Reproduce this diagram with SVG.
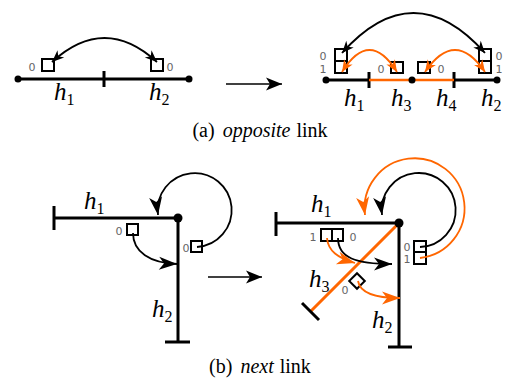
<svg xmlns="http://www.w3.org/2000/svg" width="511" height="385" viewBox="0 0 511 385">
<defs>
<marker id="aS" viewBox="-13 -6 14 12" refX="0" refY="0" markerWidth="14" markerHeight="12" markerUnits="userSpaceOnUse" orient="auto-start-reverse"><path d="M0,0 L-12,-5 L-8.5,0 L-12,5 Z" fill="#000"/></marker>
<marker id="aSo" viewBox="-13 -6 14 12" refX="0" refY="0" markerWidth="14" markerHeight="12" markerUnits="userSpaceOnUse" orient="auto-start-reverse"><path d="M0,0 L-12,-5 L-8.5,0 L-12,5 Z" fill="#f60"/></marker>
<marker id="aB" viewBox="-19 -8 20 16" refX="0" refY="0" markerWidth="20" markerHeight="16" markerUnits="userSpaceOnUse" orient="auto"><path d="M0,0 L-18,-6.5 L-13,0 L-18,6.5 Z" fill="#000"/></marker>
<marker id="aBo" viewBox="-19 -8 20 16" refX="0" refY="0" markerWidth="20" markerHeight="16" markerUnits="userSpaceOnUse" orient="auto"><path d="M0,0 L-18,-6.5 L-13,0 L-18,6.5 Z" fill="#f60"/></marker>
<marker id="aT" viewBox="-17 -8 18 16" refX="0" refY="0" markerWidth="18" markerHeight="16" markerUnits="userSpaceOnUse" orient="auto"><path d="M0,0 L-16,-6.5 L-12,0 L-16,6.5 Z" fill="#000"/></marker>
</defs>

<!-- (a) left -->
<g id="a-left">
<g stroke="#000" stroke-width="3" fill="none">
<line x1="18" y1="79" x2="189" y2="79"/>
<line x1="104" y1="71" x2="104" y2="87"/>
</g>
<circle cx="18" cy="79" r="3.5"/><circle cx="189" cy="79" r="3.5"/>
<g stroke="#000" stroke-width="2" fill="#fff">
<rect x="42" y="59" width="12" height="12"/>
<rect x="151" y="59" width="12" height="12"/>
</g>
<text font-family="DejaVu Sans" font-size="11" fill="#666" text-anchor="middle" x="32" y="71">0</text>
<text font-family="DejaVu Sans" font-size="11" fill="#666" text-anchor="middle" x="170" y="71">0</text>
<text font-family="Liberation Serif" font-style="italic" font-size="25" x="54" y="100">h<tspan font-style="normal" font-size="16" dy="5">1</tspan></text>
<text font-family="Liberation Serif" font-style="italic" font-size="25" x="149" y="100">h<tspan font-style="normal" font-size="16" dy="5">2</tspan></text>
</g>

<!-- (a) right -->
<g id="a-right">
<g stroke="#000" stroke-width="3" fill="none">
<line x1="326" y1="80" x2="369" y2="80"/>
<line x1="454" y1="80" x2="497" y2="80"/>
<line x1="369" y1="72" x2="369" y2="88"/>
<line x1="454" y1="72" x2="454" y2="88"/>
</g>
<line x1="369" y1="80" x2="454" y2="80" stroke="#f60" stroke-width="2.6"/>
<circle cx="326" cy="80" r="3.5"/><circle cx="412" cy="80" r="3.5"/><circle cx="497" cy="80" r="3.5"/>
<g stroke="#000" stroke-width="2" fill="#fff">
<rect x="335" y="49" width="12" height="12"/>
<rect x="335" y="61" width="12" height="12"/>
<rect x="479" y="49" width="12" height="12"/>
<rect x="479" y="61" width="12" height="12"/>
<rect x="391" y="62" width="12" height="11"/>
<rect x="418" y="62" width="12" height="11"/>
</g>
<text font-family="DejaVu Sans" font-size="11" fill="#666" text-anchor="middle" x="323" y="60">0</text>
<text font-family="DejaVu Sans" font-size="11" fill="#666" text-anchor="middle" x="323" y="73">1</text>
<text font-family="DejaVu Sans" font-size="11" fill="#666" text-anchor="middle" x="499" y="60">0</text>
<text font-family="DejaVu Sans" font-size="11" fill="#666" text-anchor="middle" x="499" y="73">1</text>
<text font-family="DejaVu Sans" font-size="11" fill="#666" text-anchor="middle" x="381" y="73">0</text>
<text font-family="DejaVu Sans" font-size="11" fill="#666" text-anchor="middle" x="441" y="73">0</text>
<text font-family="Liberation Serif" font-style="italic" font-size="25" x="344" y="106">h<tspan font-style="normal" font-size="16" dy="5">1</tspan></text>
<text font-family="Liberation Serif" font-style="italic" font-size="25" x="391" y="106">h<tspan font-style="normal" font-size="16" dy="5">3</tspan></text>
<text font-family="Liberation Serif" font-style="italic" font-size="25" x="436" y="106">h<tspan font-style="normal" font-size="16" dy="5">4</tspan></text>
<text font-family="Liberation Serif" font-style="italic" font-size="25" x="481" y="106">h<tspan font-style="normal" font-size="16" dy="5">2</tspan></text>
</g>

<!-- (b) left -->
<g id="b-left">
<g stroke="#000" stroke-width="3" fill="none">
<line x1="54" y1="218" x2="178" y2="218"/>
<line x1="178" y1="218" x2="178" y2="342"/>
<line x1="54" y1="206" x2="54" y2="230"/>
<line x1="165" y1="342" x2="190" y2="342"/>
</g>
<circle cx="178" cy="218" r="4.5"/>
<g stroke="#000" stroke-width="2" fill="#fff">
<rect x="127" y="224" width="11" height="11"/>
<rect x="191" y="241" width="11" height="11"/>
</g>
<text font-family="DejaVu Sans" font-size="11" fill="#666" text-anchor="middle" x="119" y="235">0</text>
<text font-family="DejaVu Sans" font-size="11" fill="#666" text-anchor="middle" x="186" y="252">0</text>
<text font-family="Liberation Serif" font-style="italic" font-size="25" x="84" y="209">h<tspan font-style="normal" font-size="16" dy="5">1</tspan></text>
<text font-family="Liberation Serif" font-style="italic" font-size="25" x="152" y="317">h<tspan font-style="normal" font-size="16" dy="5">2</tspan></text>
</g>

<!-- (b) right -->
<g id="b-right">
<g stroke="#000" stroke-width="3" fill="none">
<line x1="276" y1="223" x2="399" y2="223"/>
<line x1="399" y1="223" x2="399" y2="347"/>
<line x1="276" y1="212" x2="276" y2="236"/>
<line x1="388" y1="347" x2="412" y2="347"/>
</g>
<line x1="399" y1="223" x2="311" y2="311" stroke="#f60" stroke-width="3"/>
<line x1="302" y1="303" x2="319" y2="320" stroke="#000" stroke-width="3"/>
<circle cx="399" cy="223" r="4.5"/>
<g stroke="#000" stroke-width="2" fill="#fff">
<rect x="321" y="229" width="11" height="12"/>
<rect x="332" y="229" width="11" height="12"/>
<rect x="414" y="241" width="12" height="11"/>
<rect x="414" y="252" width="12" height="12"/>
<rect x="-5.5" y="-5.5" width="11" height="11" transform="translate(357 281) rotate(45)"/>
</g>
<text font-family="DejaVu Sans" font-size="11" fill="#666" text-anchor="middle" x="313" y="241">1</text>
<text font-family="DejaVu Sans" font-size="11" fill="#666" text-anchor="middle" x="353" y="241">0</text>
<text font-family="DejaVu Sans" font-size="11" fill="#666" text-anchor="middle" x="407" y="251">0</text>
<text font-family="DejaVu Sans" font-size="11" fill="#666" text-anchor="middle" x="407" y="263">1</text>
<text font-family="DejaVu Sans" font-size="11" fill="#666" text-anchor="middle" x="345" y="294">0</text>
<text font-family="Liberation Serif" font-style="italic" font-size="25" x="311" y="212">h<tspan font-style="normal" font-size="16" dy="5">1</tspan></text>
<text font-family="Liberation Serif" font-style="italic" font-size="25" x="309" y="287">h<tspan font-style="normal" font-size="16" dy="5">3</tspan></text>
<text font-family="Liberation Serif" font-style="italic" font-size="25" x="372" y="328">h<tspan font-style="normal" font-size="16" dy="5">2</tspan></text>
</g>

<!-- connectors -->
<g id="connectors" fill="none" stroke-width="1.8">
<path stroke="#000" d="M52,62 Q104.5,14 157,62" marker-start="url(#aS)" marker-end="url(#aS)"/>
<path stroke="#000" d="M342,53 Q413.5,-27 485,53" marker-start="url(#aS)" marker-end="url(#aS)"/>
<path stroke="#f60" d="M342,72 Q369.5,28 397,72" marker-start="url(#aSo)" marker-end="url(#aSo)"/>
<path stroke="#f60" d="M425,72 Q455,28 485,72" marker-start="url(#aSo)" marker-end="url(#aSo)"/>
<line x1="226" y1="84" x2="282" y2="84" stroke="#000" stroke-width="1.5" marker-end="url(#aT)"/>
<line x1="208" y1="277" x2="262" y2="277" stroke="#000" stroke-width="1.5" marker-end="url(#aT)"/>
<path stroke="#000" d="M133,233 C133,252 150,263 177,264" marker-end="url(#aB)"/>
<path stroke="#000" d="M197,247 A37,37 0 1 0 158,215" marker-end="url(#aB)"/>
<path stroke="#000" d="M420,247 A37,37 0 1 0 382,215" marker-end="url(#aB)"/>
<path stroke="#f60" d="M420,258 A50,50 0 1 0 365,215" marker-end="url(#aBo)"/>
<path stroke="#000" d="M338,238 C338,258 356,264 392,264" marker-end="url(#aB)"/>
<path stroke="#f60" d="M327,238 C328,251 338,258 355,263" marker-end="url(#aBo)"/>
<path stroke="#f60" d="M358,281 C360,293 375,298 400,298" marker-end="url(#aBo)"/>
</g>

<!-- captions -->
<text font-family="Liberation Serif" font-size="20" text-anchor="middle" x="260" y="137">(a)<tspan dx="8" font-style="italic">opposite</tspan><tspan dx="6">link</tspan></text>
<text font-family="Liberation Serif" font-size="20" text-anchor="middle" x="260" y="373">(b)<tspan dx="8" font-style="italic">next</tspan><tspan dx="6">link</tspan></text>
</svg>
